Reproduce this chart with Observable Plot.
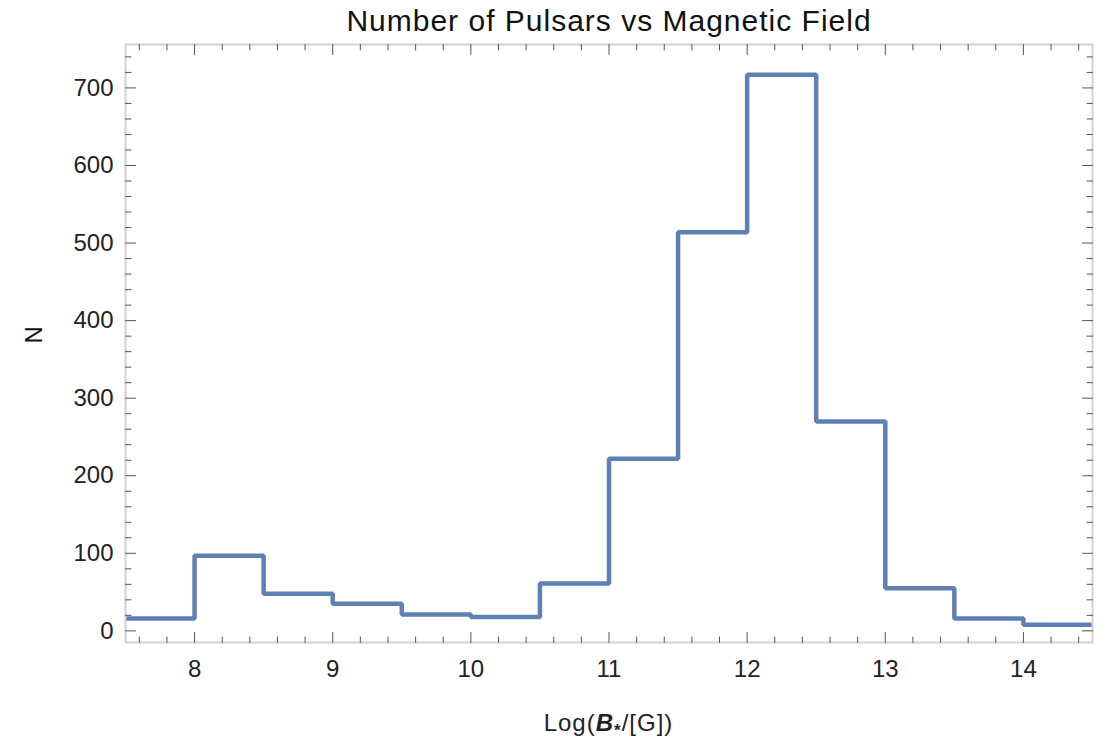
<!DOCTYPE html>
<html>
<head>
<meta charset="utf-8">
<script src="https://cdn.jsdelivr.net/npm/d3@7"></script>
<script src="https://cdn.jsdelivr.net/npm/@observablehq/plot@0.6"></script>
<style>
  body { margin: 0; background: #fff; }
  #chart svg { display: block; }
</style>
</head>
<body>
<div id="chart"></div>
<script>
// Histogram of pulsar counts per half-decade of surface magnetic field
const binStarts = [7.5, 8, 8.5, 9, 9.5, 10, 10.5, 11, 11.5, 12, 12.5, 13, 13.5, 14];
const counts    = [16, 97, 48, 35, 21, 18, 61, 222, 514, 717, 270, 55, 16, 8];
const binEnd = 14.5;

const xMajorTicks = [8, 9, 10, 11, 12, 13, 14];
const yMajorTicks = [0, 100, 200, 300, 400, 500, 600, 700];
const xMinorTicks = d3.range(38, 73).map(d => d / 5).filter(d => !Number.isInteger(d));
const yMinorTicks = d3.range(1, 38).map(d => d * 20).filter(d => d % 100 !== 0);

const titleText = "Number of Pulsars vs Magnetic Field";
const yLabel = "N";

// Step outline: each bin's left edge, plus the right edge of the last bin
const steps = binStarts.map((x, i) => ({x, n: counts[i]}))
  .concat([{x: binEnd, n: counts[counts.length - 1]}]);

const W = 1105, H = 739;
const M = {top: 44, right: 13, bottom: 97, left: 125};
const font = "'Liberation Sans', Arial, Helvetica, sans-serif";
const tickColor = "#555";
const MAJOR = 10, MINOR = 5.5;

// tick shapes pointing inward from the frame
const tickShape = {draw(ctx, l) { ctx.moveTo(0, 0); ctx.lineTo(0, -l); }};
const ticks = (data, side, len) => {
  const rotate = {bottom: 0, top: 180, left: 90, right: -90}[side];
  const horiz = side === "bottom" || side === "top";
  return Plot.vector(data, {
    [horiz ? "x" : "y"]: d => d,
    frameAnchor: side,
    length: len,
    rotate,
    anchor: "start",
    shape: tickShape,
    stroke: tickColor,
    strokeWidth: 1
  });
};

const chart = Plot.plot({
  width: W,
  height: H,
  marginTop: M.top,
  marginRight: M.right,
  marginBottom: M.bottom,
  marginLeft: M.left,
  style: {fontFamily: font, color: "#222", background: "#fff"},
  x: {domain: [7.5, 14.5]},
  y: {domain: [-15, 756]},
  length: {type: "identity"},
  marks: [
    Plot.line(steps, {
      x: "x", y: "n", curve: "step-after",
      stroke: "#5E81B5", strokeWidth: 4.5,
      strokeLinejoin: "miter", strokeLinecap: "butt", clip: true
    }),
    Plot.frame({stroke: "#d2d2d2", strokeWidth: 2}),
    ticks(xMajorTicks, "bottom", MAJOR),
    ticks(xMinorTicks, "bottom", MINOR),
    ticks(xMajorTicks, "top", MAJOR),
    ticks(xMinorTicks, "top", MINOR),
    ticks(yMajorTicks, "left", MAJOR),
    ticks(yMinorTicks, "left", MINOR),
    ticks(yMajorTicks, "right", MAJOR),
    ticks(yMinorTicks, "right", MINOR),
    Plot.axisX(xMajorTicks, {anchor: "bottom", tickSize: 0, tickPadding: 17, fontSize: 24, label: null, fill: "#222", tickFormat: d3.format("d")}),
    Plot.axisY(yMajorTicks, {anchor: "left", tickSize: 0, tickPadding: 12, fontSize: 24, label: null, fill: "#222", tickFormat: d3.format("d")}),
    Plot.text([titleText], {frameAnchor: "top", lineAnchor: "middle", dy: -23, fontSize: 30, fill: "#111", className: "chart-title"}),
    Plot.text([yLabel], {frameAnchor: "left", lineAnchor: "middle", dx: -91, rotate: -90, fontSize: 24, fill: "#111"})
  ]
});

document.getElementById("chart").appendChild(chart);
d3.select(chart).selectAll(".chart-title text").attr("letter-spacing", "1px");

// x-axis label with a bold-italic B and a subscript star
const xr = chart.scale("x").range;
const label = d3.select(chart).append("text")
  .attr("x", (xr[0] + xr[1]) / 2)
  .attr("y", H - M.bottom + 89)
  .attr("text-anchor", "middle")
  .attr("font-family", font)
  .attr("font-size", 24)
  .attr("letter-spacing", "1px")
  .attr("fill", "#222");
label.append("tspan").text("Log(");
label.append("tspan").attr("font-weight", "bold").attr("font-style", "italic").text("B");
label.append("tspan").attr("font-size", 17).attr("font-weight", "bold").attr("dy", 5).text("*");
label.append("tspan").attr("dy", -5).text("/[G])");
</script>
</body>
</html>
